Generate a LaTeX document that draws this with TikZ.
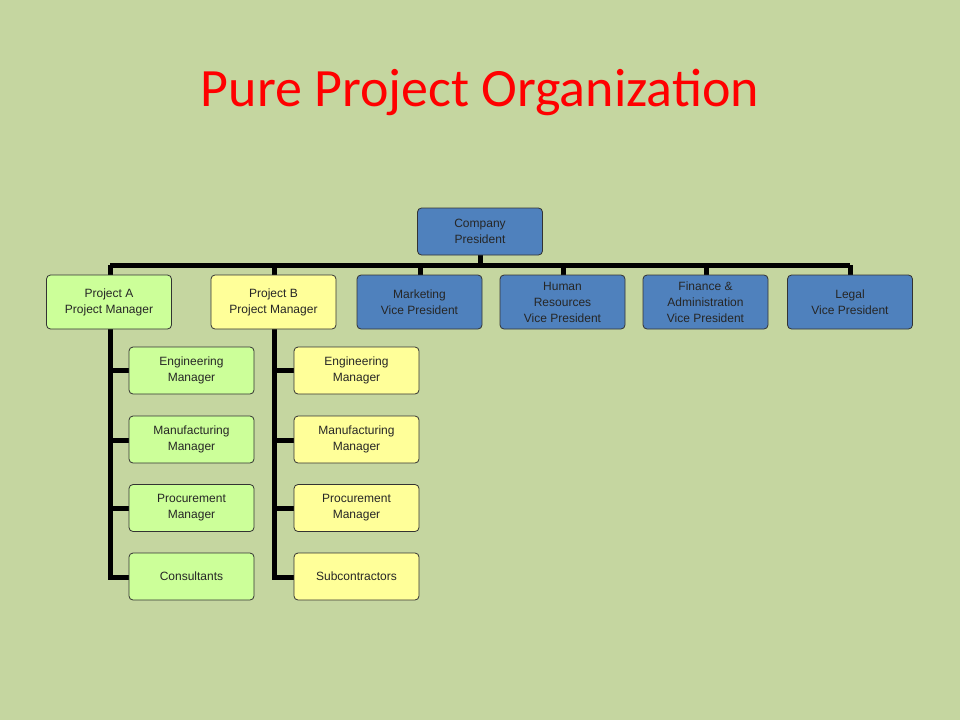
\documentclass[tikz,border=0pt]{standalone}
\usepackage{fontspec}
\setmainfont{Liberation Sans}
\newfontfamily\titlefont{Carlito}
\definecolor{bg}{HTML}{C5D6A0}
\definecolor{blu}{HTML}{4F81BD}
\definecolor{grn}{HTML}{CCFF99}
\definecolor{yel}{HTML}{FFFF99}
\begin{document}
\begin{tikzpicture}[x=1pt,y=-1pt,
 box/.style={draw=black!80,line width=0.8pt,rounded corners=4pt,minimum width=125pt,minimum height=47pt,align=center,font=\fontsize{12}{16}\selectfont,text=black!85},
 bluebox/.style={box,fill=blu,minimum height=54pt},
 topbox/.style={box,fill=blu,minimum height=54pt},
 wire/.style={line width=5pt,black}]
\fill[bg] (0,0) rectangle (960,720);
\useasboundingbox (0,0) rectangle (960,720);
\node[text=red,font=\titlefont\fontsize{54}{60}\selectfont] (title) at (480,92) {Pure Project Organization};
% connectors first
\coordinate (busL) at (110,265);
\coordinate (busR) at (850,265);
\draw[wire] (busL) -- (busR);
\draw[wire] (480,255) -- (480,265);
\foreach \x in {110,274,420,563,706,850} \draw[wire] (\x,265) -- (\x,276);
\draw[wire] (110,329) -- (110,577) -- (130,577);
\draw[wire] (274,329) -- (274,577) -- (295,577);
\foreach \y in {370,440,508} {\draw[wire] (110,\y) -- (130,\y); \draw[wire] (274,\y) -- (295,\y);}
\node[box,fill=blu] (pres) at (480,231.5) {Company\\President};
\node[box,fill=grn,minimum height=54pt] (pa) at (109,302) {Project A\\Project Manager};
\node[box,fill=yel,minimum height=54pt] (pb) at (273.5,302) {Project B\\Project Manager};
\node[bluebox] (mk) at (419.5,302) {Marketing\\Vice President};
\node[bluebox] (hr) at (562.5,302) {Human\\Resources\\Vice President};
\node[bluebox] (fa) at (705.5,302) {Finance \&\\Administration\\Vice President};
\node[bluebox] (lg) at (850,302) {Legal\\Vice President};
\node[box,fill=grn] (a1) at (191.5,370.5) {Engineering\\Manager};
\node[box,fill=grn] (a2) at (191.5,439.5) {Manufacturing\\Manager};
\node[box,fill=grn] (a3) at (191.5,508) {Procurement\\Manager};
\node[box,fill=grn] (a4) at (191.5,576.5) {Consultants};
\node[box,fill=yel] (b1) at (356.5,370.5) {Engineering\\Manager};
\node[box,fill=yel] (b2) at (356.5,439.5) {Manufacturing\\Manager};
\node[box,fill=yel] (b3) at (356.5,508) {Procurement\\Manager};
\node[box,fill=yel] (b4) at (356.5,576.5) {Subcontractors};
\end{tikzpicture}
\end{document}
